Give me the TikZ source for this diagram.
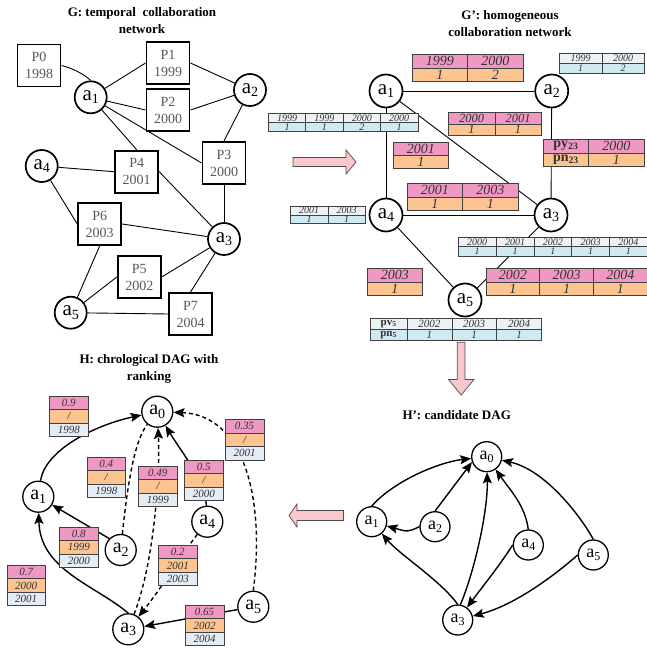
\documentclass[tikz,border=0pt]{standalone}
\usepackage{fontspec}
\setmainfont{Liberation Serif}
\usetikzlibrary{arrows.meta}
\definecolor{pk}{RGB}{240,152,196}
\definecolor{og}{RGB}{251,196,145}
\definecolor{lb}{RGB}{207,234,241}
\definecolor{lg}{RGB}{237,242,247}
\definecolor{hb}{RGB}{228,236,245}
\definecolor{ar}{RGB}{248,200,204}
\newcommand\fpk{\fontsize{14}{14}\selectfont\itshape}
\newcommand\fps{\fontsize{12.5}{12.5}\selectfont\itshape}
\newcommand\fbl{\fontsize{10}{10}\selectfont\itshape}
\newcommand\fpv{\fontsize{11}{11}\selectfont\itshape}
\newcommand\fhh{\fontsize{11}{11}\selectfont\itshape}
\newcommand\an[2][14]{a\raisebox{-3.5pt}{\fontsize{#1}{#1}\selectfont #2}}
\newcommand\trow[8]{\foreach \tv [count=\i from 0] in {#8} {\node[cell,fill=#6,minimum width=#4,minimum height=#5,font=#7] (#1-\i) at ({#2+\i*#4},#3) {\tv};}}
\newcommand\htab[6]{%
  \node[cell,fill=pk,minimum width=38.5,minimum height=13.4,font=\fhh] (#1-1) at (#2,#3) {#4};
  \node[cell,fill=og,minimum width=38.5,minimum height=13.4,font=\fhh] (#1-2) at (#2,#3+13.4) {#5};
  \node[cell,fill=hb,minimum width=38.5,minimum height=13.4,font=\fhh] (#1-3) at (#2,#3+26.8) {#6};}
\begin{document}
\begin{tikzpicture}[x=1pt,y=-1pt,
  cell/.style={draw=black!75,line width=0.6pt,inner sep=0pt,anchor=north west,text=black!80},
  pbox/.style={draw,line width=1.9pt,minimum width=43pt,minimum height=42pt,inner sep=0pt,align=center,font=\fontsize{14}{17}\selectfont,text=black!65,fill=white},
  gc/.style={circle,draw,line width=1.7pt,minimum size=32pt,inner sep=0pt,fill=white,font=\fontsize{21}{21}\selectfont},
  gpc/.style={circle,draw,line width=1.7pt,minimum size=33pt,inner sep=0pt,fill=white,font=\fontsize{21}{21}\selectfont},
  hc/.style={circle,draw,line width=1.3pt,minimum size=31pt,inner sep=0pt,fill=white,font=\fontsize{20}{20}\selectfont},
  hpc/.style={circle,draw,line width=1.3pt,minimum size=30pt,inner sep=0pt,fill=white,font=\fontsize{18}{18}\selectfont},
  ttl/.style={font=\bfseries\fontsize{13}{17}\selectfont,align=center},
  gedge/.style={line width=0.9pt},
  pedge/.style={line width=0.9pt},
  arr/.style={line width=1.4pt,-{Stealth[length=11pt,width=9pt,inset=2pt]}},
  darr/.style={arr,dash pattern=on 4pt off 3pt},
  dline/.style={line width=1.4pt,dash pattern=on 4pt off 3pt},
  blk/.style={fill=ar,draw=black!70,line width=0.7pt}
]
\useasboundingbox (0,0) rectangle (647,653);

% ---------------- G ----------------
\node[ttl] (gt) at (142,20.5) {G: temporal\ \ collaboration\\network};
\node[pbox] (g-P0) at (39,65.5) {P0\\1998};
\node[pbox] (g-P1) at (168,63) {P1\\1999};
\node[pbox] (g-P2) at (168,110) {P2\\2000};
\node[pbox] (g-P3) at (224,163) {P3\\2000};
\node[pbox] (g-P4) at (136.7,171.7) {P4\\2001};
\node[pbox] (g-P6) at (99.7,224) {P6\\2003};
\node[pbox] (g-P5) at (139.3,277) {P5\\2002};
\node[pbox] (g-P7) at (190.5,314) {P7\\2004};
\node[gc] (g-a1) at (90.7,97.3) {\an{1}};
\node[gc] (g-a2) at (250,90) {\an{2}};
\node[gc] (g-a4) at (41.7,166) {\an{4}};
\node[gc] (g-a3) at (224,239) {\an{3}};
\node[gc] (g-a5) at (70.7,312.7) {\an{5}};
\draw[gedge] (g-P0.east) .. controls (72,68) and (84,74) .. (g-a1.north);
\draw[gedge] (g-a1) -- (g-P1.west);
\draw[gedge] (g-a1) -- (g-P2.west);
\draw[gedge] (g-a1) -- (g-P3.west);
\draw[gedge] (g-a1) -- (g-P4.north);
\draw[gedge] (g-P1.east) -- (g-a2);
\draw[gedge] (g-P2.east) -- (g-a2);
\draw[gedge] (g-a2) -- (g-P3.north);
\draw[gedge] (g-a4) -- (g-P4.west);
\draw[gedge] (g-a4) -- (g-P6.west);
\draw[gedge] (g-P4.east) -- (g-a3);
\draw[gedge] (g-P3.south) -- (g-a3);
\draw[gedge] (g-P6.east) -- (g-a3);
\draw[gedge] (g-P6.south) -- (g-a5);
\draw[gedge] (g-P5.west) -- (g-a5);
\draw[gedge] (g-P5.east) -- (g-a3);
\draw[gedge] (g-a5) -- (g-P7.west);
\draw[gedge] (g-P7.north) -- (g-a3);

% ---------------- G' ----------------
\node[ttl] (gpt) at (510,24) {G’: homogeneous\\collaboration network};
\node[gpc] (p1) at (386,91) {\an{1}};
\node[gpc] (p2) at (551.7,91) {\an{2}};
\node[gpc] (p4) at (386,215) {\an{4}};
\node[gpc] (p3) at (551,215) {\an{3}};
\node[gpc] (p5) at (465,300) {\an{5}};
\draw[pedge] (p1) -- (p2);
\draw[pedge] (p1) -- (p4);
\draw[pedge] (p2) -- (p3);
\draw[pedge] (p4) -- (p3);
\draw[pedge] (p1) -- (p3);
\draw[pedge] (p4) -- (p5);
\draw[pedge] (p3) -- (p5);
\trow{ta}{411.7}{54}{55.5}{13.5}{pk}{\fpk}{1999,2000}
\trow{tab}{411.7}{67.5}{55.5}{13.5}{og}{\fpk}{1,2}
\trow{tb}{559}{52.7}{42.5}{10}{lg}{\fbl}{1999,2000}
\trow{tbb}{559}{62.7}{42.5}{10}{lb}{\fbl}{1,2}
\trow{tc}{268}{113}{37.4}{9}{lg}{\fbl}{1999,1999,2000,2000}
\trow{tcb}{268}{122}{37.4}{9}{lb}{\fbl}{1,1,2,1}
\trow{td}{448}{112}{46.5}{11.5}{pk}{\fps}{2000,2001}
\trow{tdb}{448}{123.5}{46.5}{11.5}{og}{\fps}{1,1}
\trow{te}{393}{141.7}{55}{13}{pk}{\fpk}{2001}
\trow{teb}{393}{154.7}{55}{13}{og}{\fpk}{1}
\node[cell,fill=pk,minimum width=45.3,minimum height=13.5,font=\fontsize{14}{14}\selectfont\bfseries] (tf-0) at (543,139) {py\textsubscript{23}};
\node[cell,fill=pk,minimum width=55.7,minimum height=13.5,font=\fpk] (tf-1) at (588.3,139) {2000};
\node[cell,fill=og,minimum width=45.3,minimum height=13.5,font=\fontsize{14}{14}\selectfont\bfseries] (tfb-0) at (543,152.5) {pn\textsubscript{23}};
\node[cell,fill=og,minimum width=55.7,minimum height=13.5,font=\fpk] (tfb-1) at (588.3,152.5) {1};
\trow{tg}{406.7}{183.3}{55.5}{13.5}{pk}{\fpk}{2001,2003}
\trow{tgb}{406.7}{196.8}{55.5}{13.5}{og}{\fpk}{1,1}
\trow{th}{290}{205.7}{37.5}{8.8}{lg}{\fbl}{2001,2003}
\trow{thb}{290}{214.5}{37.5}{8.8}{lb}{\fbl}{1,1}
\trow{ti}{458}{237}{37.8}{9.3}{lg}{\fbl}{2000,2001,2002,2003,2004}
\trow{tib}{458}{246.3}{37.8}{9.3}{lb}{\fbl}{1,1,1,1,1}
\trow{tj}{366.7}{268}{55.6}{13.5}{pk}{\fpk}{2003}
\trow{tjb}{366.7}{281.5}{55.6}{13.5}{og}{\fpk}{1}
\trow{tk}{485.7}{268}{53.7}{13.5}{pk}{\fpk}{2002,2003,2004}
\trow{tkb}{485.7}{281.5}{53.7}{13.5}{og}{\fpk}{1,1,1}
\node[cell,fill=lg,minimum width=36.7,minimum height=11,font=\fontsize{11}{11}\selectfont\bfseries] (tl-h) at (370,318) {pv\textsubscript{5}};
\node[cell,fill=lb,minimum width=36.7,minimum height=11,font=\fontsize{11}{11}\selectfont\bfseries] (tlb-h) at (370,329) {pn\textsubscript{5}};
\trow{tl}{406.7}{318}{44.8}{11}{lg}{\fpv}{2002,2003,2004}
\trow{tlb}{406.7}{329}{44.8}{11}{lb}{\fpv}{1,1,1}

% block arrows
\draw[blk] (293,157.5) -- (346,157.5) -- (346,150) -- (356,162) -- (346,174) -- (346,166.5) -- (293,166.5) -- cycle;
\draw[blk] (457.3,342.3) -- (465,342.3) -- (465,379.5) -- (474,379.5) -- (461.2,395) -- (448.5,379.5) -- (457.3,379.5) -- cycle;
\draw[blk] (343.5,510.5) -- (297,510.5) -- (297,504) -- (289,515.5) -- (297,527) -- (297,520.5) -- (343.5,520.5) -- cycle;

% ---------------- H ----------------
\node[ttl] (ht) at (149,369) {H: chrological DAG with\\ranking};
\node[hc] (h-a0) at (157.3,411.7) {\an{0}};
\node[hc] (h-a1) at (38.3,496.7) {\an{1}};
\node[hc] (h-a2) at (120.7,550) {\an{2}};
\node[hc] (h-a4) at (207.3,521.7) {\an{4}};
\node[hc] (h-a3) at (128.3,629.3) {\an{3}};
\node[hc] (h-a5) at (253.3,606.7) {\an{5}};
\draw[arr] (h-a1) .. controls (45,450) and (95,425) .. (h-a0);
\draw[arr] (h-a2.north west) -- (h-a1);
\draw[arr] (h-a4) .. controls (205,480) and (180,450) .. (h-a0);
\draw[dline] (h-a2) .. controls (128,480) and (135,440) .. (h-a0);
\draw[darr] (h-a3) .. controls (155,560) and (160,470) .. (h-a0);
\draw[darr] (h-a4) .. controls (185,550) and (160,590) .. (h-a3);
\draw[darr] (h-a5.north) .. controls (265,500) and (245,415) .. (h-a0);
\draw[arr] (h-a5) -- (h-a3);
\draw[arr] (h-a3.north) .. controls (95,585) and (40,570) .. (h-a1);
\htab{T1}{49.3}{395.7}{0.9}{/}{1998}
\htab{T2}{86.7}{457}{0.4}{/}{1998}
\htab{T3}{138.3}{466}{0.49}{/}{1999}
\htab{T4}{184.3}{460}{0.5}{/}{2000}
\htab{T5}{225}{419.3}{0.35}{/}{2001}
\htab{T6}{59.3}{526.7}{0.8}{1999}{2000}
\htab{T7}{6.7}{565}{0.7}{2000}{2001}
\htab{T8}{158.3}{545}{0.2}{2001}{2003}
\htab{T9}{185}{605}{0.65}{2002}{2004}

% ---------------- H' ----------------
\node[ttl] (hpt) at (456.7,415) {H’: candidate DAG};
\node[hpc] (q0) at (486.7,456.7) {\an[12]{0}};
\node[hpc] (q1) at (371.7,521.7) {\an[12]{1}};
\node[hpc] (q2) at (435,526.7) {\an[12]{2}};
\node[hpc] (q4) at (528.3,545) {\an[12]{4}};
\node[hpc] (q5) at (593.3,555) {\an[12]{5}};
\node[hpc] (q3) at (457.7,620) {\an[12]{3}};
\draw[arr] (q1.north) .. controls (395,480) and (440,462) .. (q0);
\draw[arr] (q2.north) -- (q0.200);
\draw[arr] (q2.west) .. controls (408,532) .. (q1);
\draw[arr] (q3.north) .. controls (440,580) and (400,555) .. (q1);
\draw[arr] (q3.80) .. controls (475,570) and (488,510) .. (q0);
\draw[arr] (q4.north) .. controls (525,505) and (510,490) .. (q0);
\draw[arr] (q4.west) .. controls (500,565) and (480,590) .. (q3);
\draw[arr] (q5.north) .. controls (580,515) and (545,470) .. (q0);
\draw[arr] (q5.west) .. controls (555,575) and (515,605) .. (q3);
\end{tikzpicture}
\end{document}
